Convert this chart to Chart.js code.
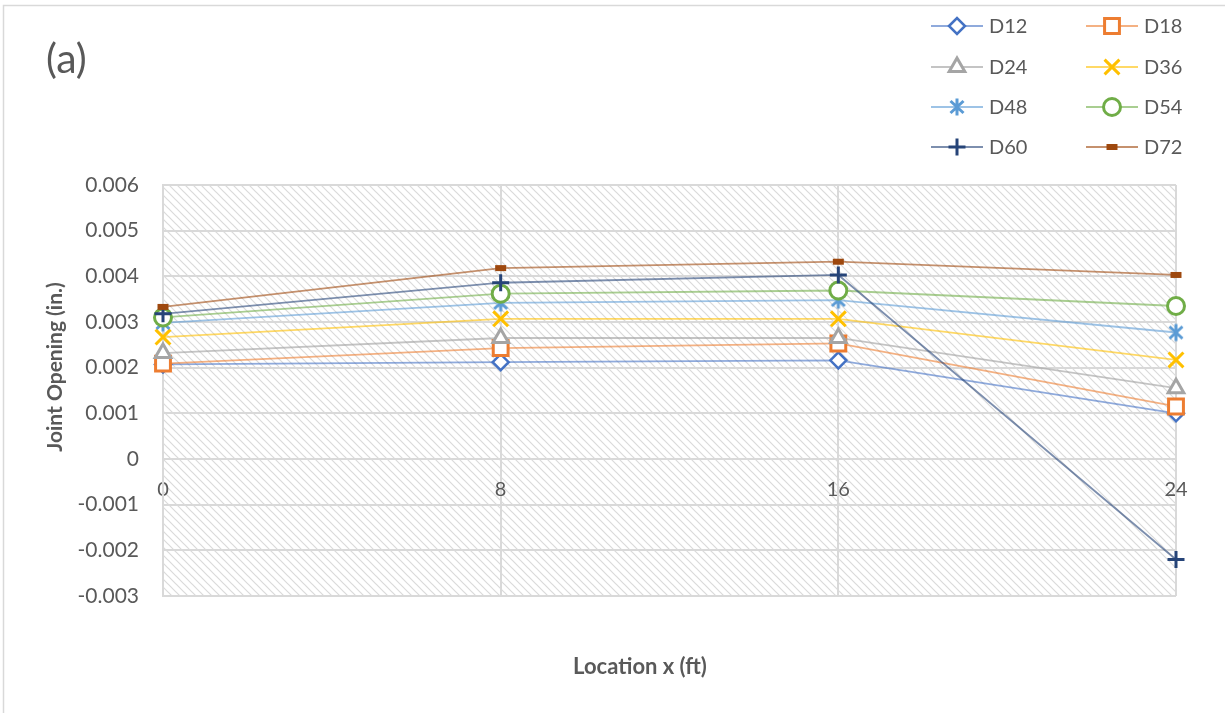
<!DOCTYPE html>
<html>
<head>
<meta charset="utf-8">
<script src="https://cdn.jsdelivr.net/npm/chart.js@4.4.1/dist/chart.umd.min.js"></script>
<style>
  html, body { margin: 0; padding: 0; background: #ffffff; }
  #wrap { width: 1225px; height: 713px; }
</style>
</head>
<body>
<div id="wrap"><canvas id="chart" width="1225" height="713"></canvas></div>
<script>
// Joint opening along the joint for each slab case
const locations = [0, 8, 16, 24];
const xTickLabels = ['0', '8', '16', '24'];
const yTickLabels = ['-0.003', '-0.002', '-0.001', '0', '0.001', '0.002', '0.003', '0.004', '0.005', '0.006'];
const seriesNames = ['D12', 'D18', 'D24', 'D36', 'D48', 'D54', 'D60', 'D72'];
const xAxisTitle = 'Location x (ft)';
const yAxisTitle = 'Joint Opening (in.)';
const panelTag = '(a)';

const d12 = [0.00207, 0.00212, 0.00216, 0.00100];
const d18 = [0.00209, 0.00243, 0.00253, 0.00115];
const d24 = [0.00232, 0.00265, 0.00265, 0.00155];
const d36 = [0.00267, 0.00307, 0.00307, 0.00217];
const d48 = [0.00298, 0.00342, 0.00348, 0.00277];
const d54 = [0.00310, 0.00362, 0.00369, 0.00335];
const d60 = [0.00318, 0.00386, 0.00403, -0.00220];
const d72 = [0.00333, 0.00418, 0.00432, 0.00403];
const seriesValues = [d12, d18, d24, d36, d48, d54, d60, d72];

const FONT = 'Lato, "Open Sans", sans-serif';
const TEXT = '#595959';
const GRID = '#d9d9d9';

// asterisk marker: vertical bar plus a diagonal cross
function asteriskMarker(color) {
  const s = 22, c = document.createElement('canvas');
  c.width = s; c.height = s;
  const g = c.getContext('2d');
  const m = s / 2;
  g.strokeStyle = color;
  g.lineWidth = 3;
  g.beginPath();
  g.moveTo(m, m - 8.5); g.lineTo(m, m + 8.5);
  g.moveTo(m - 6.5, m - 6); g.lineTo(m + 6.5, m + 6);
  g.moveTo(m + 6.5, m - 6); g.lineTo(m - 6.5, m + 6);
  g.stroke();
  return c;
}

// marker styles per series
const styles = [
  { color: '#4472C4', line: 'rgba(68,114,196,0.6)',  point: 'rectRot',  radius: 8,   width: 2.5, fill: '#ffffff' },
  { color: '#ED7D31', line: 'rgba(237,125,49,0.6)',  point: 'rect',     radius: 10.5, width: 3,  fill: '#ffffff' },
  { color: '#A5A5A5', line: 'rgba(165,165,165,0.65)', point: 'triangle', radius: 9,  width: 3,   fill: '#ffffff' },
  { color: '#FFC000', line: 'rgba(255,192,0,0.6)',   point: 'crossRot', radius: 10.5, width: 3,  fill: '#FFC000' },
  { color: '#5B9BD5', line: 'rgba(91,155,213,0.6)',  point: asteriskMarker('#5B9BD5'), radius: 9, width: 3, fill: '#5B9BD5' },
  { color: '#70AD47', line: 'rgba(112,173,71,0.6)',  point: 'circle',   radius: 8.5, width: 3,   fill: '#ffffff' },
  { color: '#264478', line: 'rgba(38,68,120,0.6)',   point: 'cross',    radius: 8.5, width: 3,   fill: '#264478' },
  { color: '#9E480E', line: 'rgba(158,72,14,0.6)',   point: 'line',     radius: 5.5, width: 6,   fill: '#9E480E' }
];

const datasets = seriesNames.map((name, i) => ({
  label: name,
  data: locations.map((x, k) => ({ x: x, y: seriesValues[i][k] })),
  borderColor: styles[i].line,
  borderWidth: 1.8,
  pointStyle: styles[i].point,
  pointRadius: styles[i].radius,
  pointHoverRadius: styles[i].radius,
  pointBorderColor: styles[i].color,
  pointBackgroundColor: styles[i].fill,
  pointBorderWidth: styles[i].width,
  pointHoverBorderWidth: styles[i].width,
  tension: 0,
  clip: false,
  order: seriesNames.length - i
}));

// hatched plot-area fill
function hatchPattern(ctx) {
  const p = document.createElement('canvas');
  p.width = 8; p.height = 8;
  const g = p.getContext('2d');
  g.fillStyle = '#ffffff';
  g.fillRect(0, 0, 8, 8);
  g.strokeStyle = '#dadada';
  g.lineWidth = 1.2;
  g.beginPath();
  g.moveTo(-2, -2); g.lineTo(10, 10);
  g.moveTo(-2, 6); g.lineTo(2, 10);
  g.moveTo(6, -2); g.lineTo(10, 2);
  g.stroke();
  return ctx.createPattern(p, 'repeat');
}

const backdrop = {
  id: 'backdrop',
  beforeDraw(chart) {
    const { ctx, chartArea: a } = chart;
    ctx.save();
    ctx.fillStyle = '#ffffff';
    ctx.fillRect(0, 0, chart.width, chart.height);
    ctx.fillStyle = hatchPattern(ctx);
    ctx.fillRect(a.left, a.top, a.right - a.left, a.bottom - a.top);
    // frame edges
    ctx.strokeStyle = GRID;
    ctx.lineWidth = 1.5;
    ctx.beginPath();
    ctx.moveTo(3.5, chart.height); ctx.lineTo(3.5, 5.5); ctx.lineTo(chart.width, 5.5);
    ctx.stroke();
    ctx.restore();
  }
};

const annotations = {
  id: 'annotations',
  afterDraw(chart) {
    const { ctx } = chart;
    const colX = [931, 1086];
    const rowY = [26, 67, 107, 147];
    ctx.save();
    chart.data.datasets.forEach((ds, i) => {
      const x0 = colX[i % 2];
      const y = rowY[Math.floor(i / 2)];
      ctx.strokeStyle = ds.borderColor;
      ctx.lineWidth = 1.8;
      ctx.beginPath();
      ctx.moveTo(x0, y); ctx.lineTo(x0 + 52, y);
      ctx.stroke();
      ctx.strokeStyle = ds.pointBorderColor;
      ctx.fillStyle = ds.pointBackgroundColor;
      ctx.lineWidth = ds.pointBorderWidth;
      Chart.helpers.drawPoint(ctx, {
        pointStyle: ds.pointStyle, rotation: 0,
        radius: ds.pointRadius, borderWidth: ds.pointBorderWidth
      }, x0 + 26, y);
      ctx.fillStyle = TEXT;
      ctx.font = '20px ' + FONT;
      ctx.textAlign = 'left';
      ctx.textBaseline = 'middle';
      ctx.fillText(ds.label, x0 + 58, y + 1);
    });
    ctx.fillStyle = TEXT;
    ctx.textBaseline = 'middle';
    // panel tag
    ctx.font = '41px ' + FONT;
    ctx.textAlign = 'left';
    ctx.fillText(panelTag, 46, 60);
    // axis titles
    ctx.textAlign = 'center';
    ctx.font = 'bold 22px ' + FONT;
    ctx.fillText(xAxisTitle, 640, 667);
    ctx.translate(55, 367);
    ctx.rotate(-Math.PI / 2);
    ctx.font = 'bold 21px ' + FONT;
    ctx.fillText(yAxisTitle, 0, 0);
    ctx.restore();
  }
};

new Chart(document.getElementById('chart'), {
  type: 'line',
  data: { datasets },
  plugins: [backdrop, annotations],
  options: {
    responsive: false,
    animation: false,
    devicePixelRatio: 1,
    layout: { padding: { top: 185, right: 49, bottom: 117, left: 30 } },
    plugins: { legend: { display: false }, tooltip: { enabled: false } },
    scales: {
      x: {
        type: 'linear', min: 0, max: 24,
        position: { y: 0 },
        ticks: {
          stepSize: 8, padding: 19, color: TEXT, maxRotation: 0,
          font: { family: FONT, size: 20 },
          callback: (v, i) => xTickLabels[i]
        },
        grid: { color: GRID, lineWidth: 2, drawTicks: false },
        border: { color: GRID, width: 2 }
      },
      y: {
        type: 'linear', min: -0.003, max: 0.006,
        ticks: {
          stepSize: 0.001, padding: 24, color: TEXT,
          font: { family: FONT, size: 21 },
          callback: (v, i) => yTickLabels[i]
        },
        grid: { color: GRID, lineWidth: 2, drawTicks: false },
        border: { color: GRID, width: 2 },
        afterFit(scale) { scale.width = 133; }
      }
    }
  }
});
</script>
</body>
</html>
